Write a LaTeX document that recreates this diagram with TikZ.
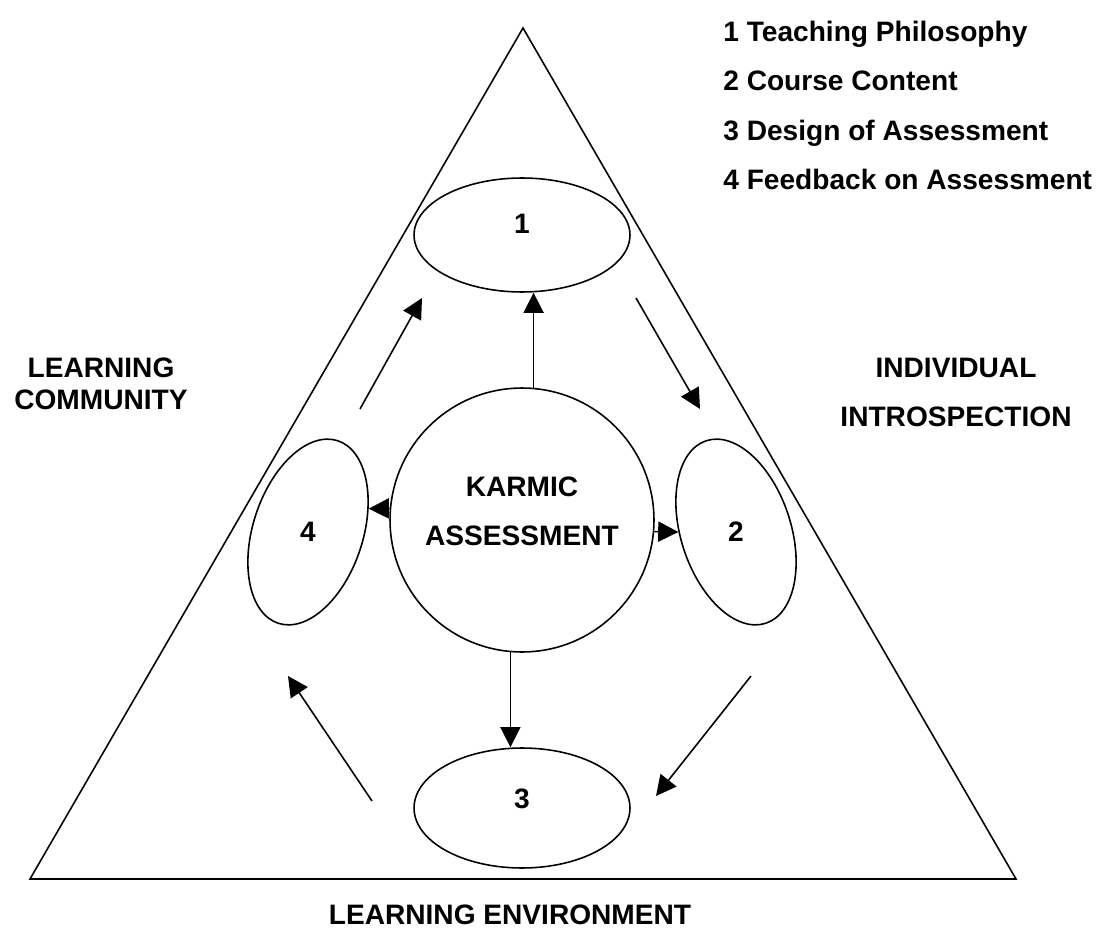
\documentclass[tikz,border=0pt]{standalone}
\usepackage{fontspec}
\setmainfont{Liberation Sans}
\usetikzlibrary{shapes.geometric,arrows.meta}
\tikzstyle{phase} = [ellipse,draw=black,line width=0.9pt,inner sep=0pt,
                     minimum width=2.2cm,minimum height=3.84cm]
\tikzstyle{hub} = [circle,draw=black,line width=0.9pt,inner sep=0pt,
                   minimum size=5.28cm]
\tikzstyle{side} = [inner sep=0pt,align=center,
                    font=\fontsize{16}{27.8}\selectfont\bfseries]
\tikzstyle{arrow} = [line width=0.9pt,-{Triangle[length=11.5pt,width=11.5pt]}]

\begin{document}
\begin{tikzpicture}[x=0.02cm,y=-0.02cm,
  every node/.style={inner sep=0pt,font=\fontsize{16}{19}\selectfont\bfseries}]
 \useasboundingbox (0,0) rectangle (1102,929);
 \draw [line width=0.9pt] (523,28) -- (30,879) -- (1016,879) -- cycle;
 % centre and the four stages
 \node (KA) [hub] at (522,520) {};
 \node (KT) [side] at ([yshift=4.8pt]KA.center) {KARMIC\\ASSESSMENT};
 \node (P1) [phase,minimum width=4.32cm,minimum height=2.28cm] at (522,235) {};
 \node (P2) [phase,rotate=18] at (736,532) {};
 \node (P3) [phase,minimum width=4.32cm,minimum height=2.4cm] at (522,808) {};
 \node (P4) [phase,rotate=-18] at (308,532) {};
 \node (N1) at ([yshift=6.2pt]P1.center) {1};
 \node (N2) at (P2.center) {2};
 \node (N3) at ([yshift=5.1pt]P3.center) {3};
 \node (N4) at (P4.center) {4};
 \draw [arrow] (KA.85) -- (KA.85 |- P1.south);
 \draw [arrow] (KA.-5) -- (P2.162);
 \draw [arrow] (KA.-95) -- (KA.-95 |- P3.north);
 \draw [arrow] (KA.175) -- (P4.39);
 % cycle arrows round the centre
 \coordinate (S12) at (636,298); \coordinate (T12) at (700,409);
 \coordinate (S23) at (751,676); \coordinate (T23) at (656,796);
 \coordinate (S34) at (372,801); \coordinate (T34) at (288,676);
 \coordinate (S41) at (360,409); \coordinate (T41) at (422,298);
 \draw [arrow] (S12) -- (T12);
 \draw [arrow] (S23) -- (T23);
 \draw [arrow] (S34) -- (T34);
 \draw [arrow] (S41) -- (T41);
 % sides of the triangle and key
 \node (LC) [side,font=\fontsize{16}{18.1}\selectfont\bfseries] at (101,383.5)
            {LEARNING\\COMMUNITY};
 \node (II) [side] at (956,392.5) {INDIVIDUAL\\INTROSPECTION};
 \node (LE) [side] at (510,915) {LEARNING ENVIRONMENT};
 \node (KEY) [side,align=left,anchor=west,
              font=\fontsize{16}{28.2}\selectfont\bfseries] at (723,105.5)
            {1 Teaching Philosophy\\2 Course Content\\3 Design of Assessment\\4 Feedback on Assessment};
\end{tikzpicture}
\end{document}
